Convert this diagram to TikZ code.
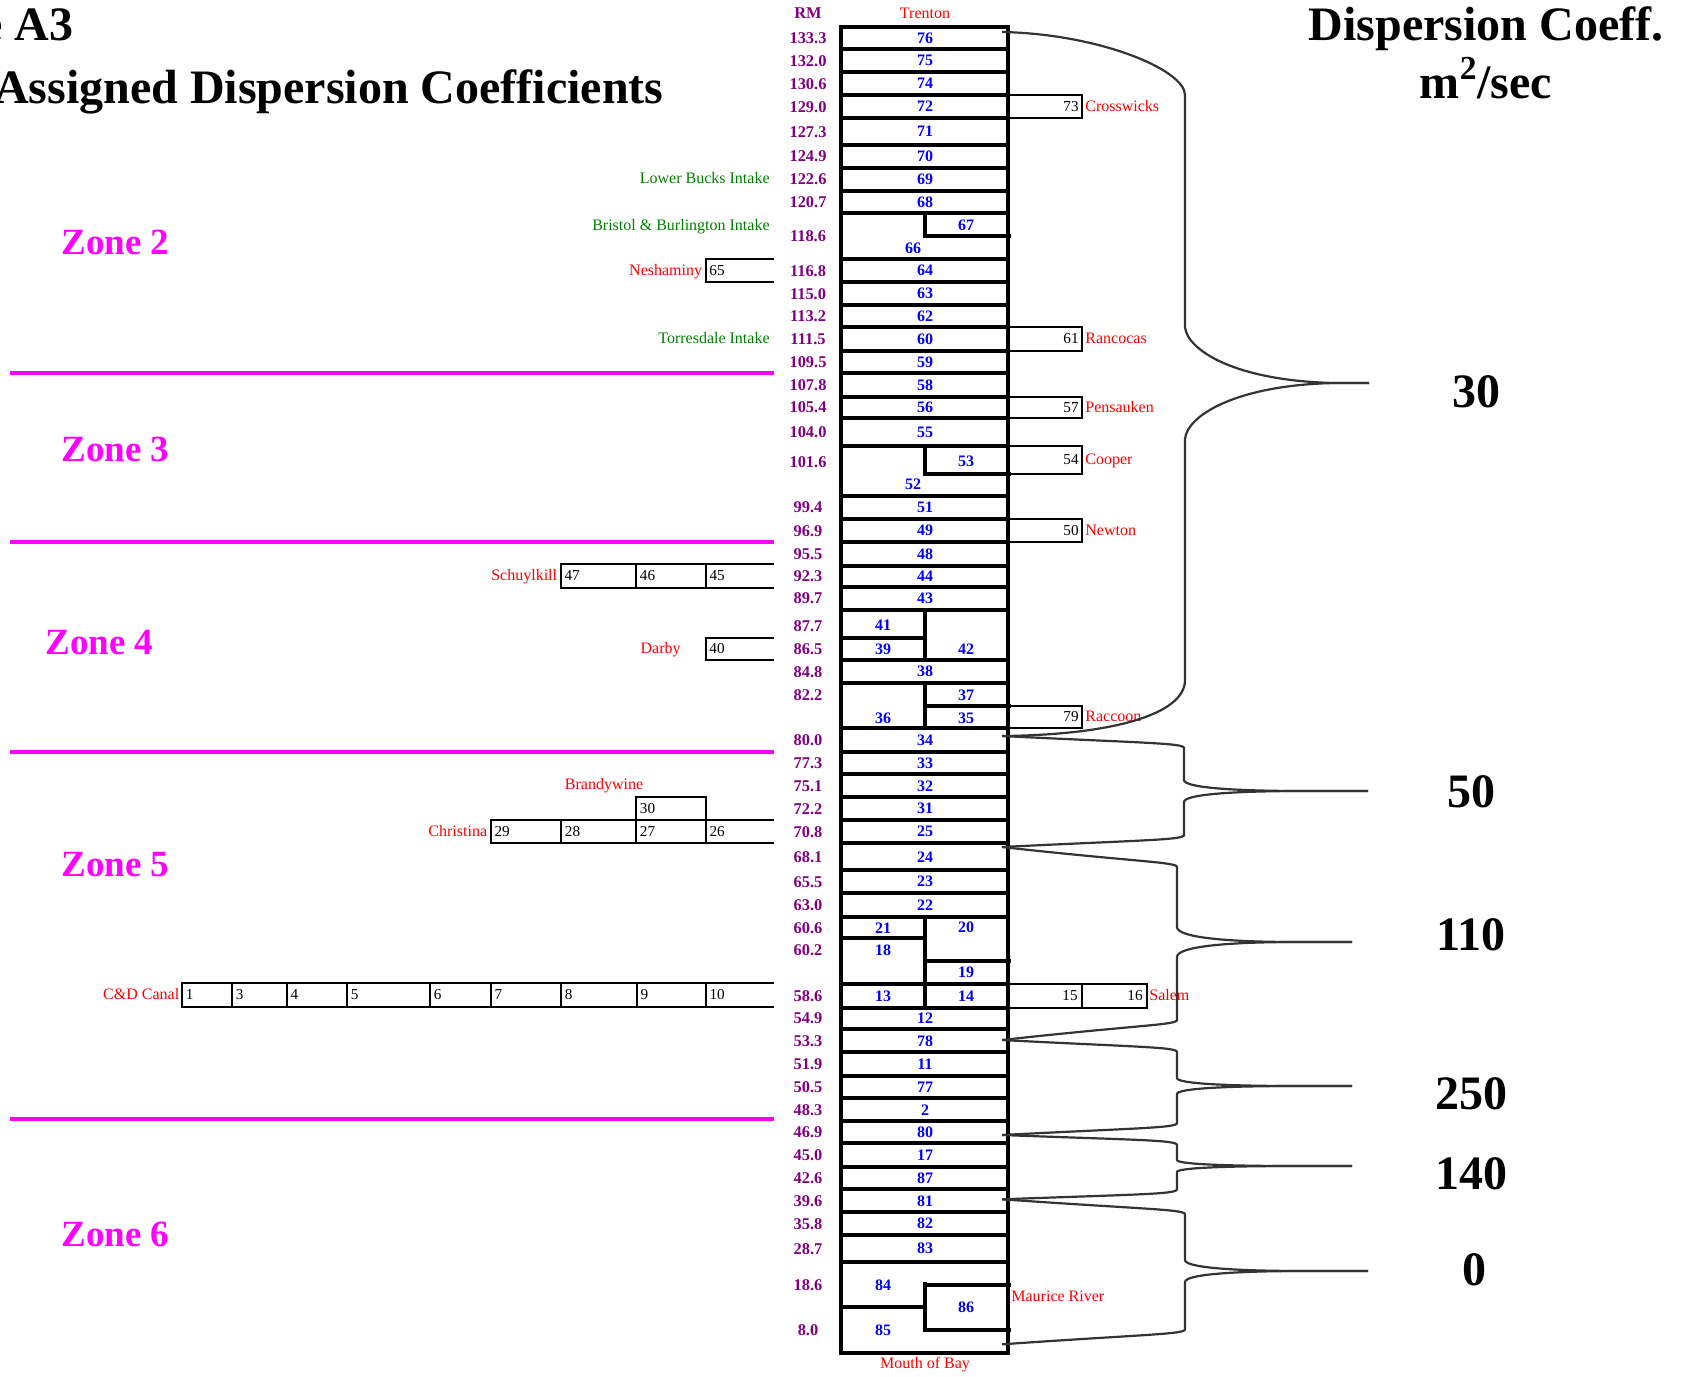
\documentclass[tikz,border=0pt]{standalone}
\usepackage{fontspec}
\setmainfont{Liberation Serif}
\definecolor{rmpurple}{RGB}{128,0,128}
\definecolor{intakegreen}{RGB}{0,128,0}
\definecolor{bracegray}{RGB}{51,51,51}
\definecolor{zonemag}{RGB}{255,0,255}

\begin{document}
\begin{tikzpicture}[x=0.5pt,y=-0.5pt,
  cell/.style={inner sep=0pt,text=blue,font=\fontsize{8}{9}\selectfont\bfseries},
  rmlbl/.style={inner sep=0pt,text=rmpurple,font=\fontsize{8.2}{9}\selectfont\bfseries},
  trib/.style={inner sep=0pt,text=red,font=\fontsize{8}{9}\selectfont},
  intake/.style={inner sep=0pt,anchor=mid east,text=intakegreen,font=\fontsize{8}{9}\selectfont},
  bnum/.style={inner sep=0pt,anchor=mid west,font=\fontsize{7.6}{9}\selectfont},
  wall/.style={line width=2pt},
  branch/.style={line width=0.9pt},
  zoneline/.style={zonemag,line width=2pt},
  zonelbl/.style={inner sep=0pt,anchor=west,text=zonemag,font=\fontsize{18.5}{22}\selectfont\bfseries},
  bigtxt/.style={inner sep=0pt,font=\fontsize{24}{28}\selectfont\bfseries},
  coefbrace/.style={bracegray,line width=1.1pt}]
  \useasboundingbox (0,0) rectangle (1685,1376);
  % titulos
  \node[bigtxt,anchor=base east] (tab) at (74,40) {Table A3};
  \node[bigtxt,anchor=base east] (title) at (664,103) {Assigned Dispersion Coefficients};
  \node[bigtxt,anchor=base] (coefhd) at (1486,40) {Dispersion Coeff.};
  \node[bigtxt,anchor=base] (units) at (1486,98) {m\textsuperscript{2}/sec};
  % zonas
  \foreach \y in {373,542.3,752.3,1119} \draw[zoneline] (10,\y) -- (774,\y);
  \foreach \z/\x/\y in {2/61/242,3/61/449,4/45/642,5/61/865,6/61/1234}
    \node[zonelbl] (zone\z) at (\x,\y) {Zone \z};
  % eje principal del rio
  \draw[wall] (841,27.2) rectangle (1007.7,1353.3);
  \foreach \y in {49.3,72.3,95,118.3,145,167.7,190.7,213.3,259,282.3,305,327.3,350.7,373.3,396.7,418.3,445.7,495.7,519,542.3,565.7,586.7,610,660,683.3,728.3,752.3,774.3,797.3,820,843.3,870,893.3,916.7,984.3,1007.7,1029.3,1052.3,1075.7,1098.3,1121,1143.3,1166.7,1189.3,1212.3,1235,1262.3}
    \draw[wall] (841,\y) -- (1007.7,\y);
  % celdas partidas
  \draw[wall] (924.7,213.3) -- (924.7,236) -- (1010.5,236);
  \draw[wall] (924.7,445.7) -- (924.7,474.3) -- (1010.5,474.3);
  \draw[wall] (841,637.7) -- (924.7,637.7) (924.7,610) -- (924.7,660);
  \draw[wall] (924.7,683.3) -- (924.7,728.3) (924.7,706) -- (1010.5,706);
  \draw[wall] (841,937.7) -- (924.7,937.7) (924.7,916.7) -- (924.7,1007.7) (924.7,961) -- (1010.5,961);
  \draw[wall] (841,1307.3) -- (924.7,1307.3) (924.7,1282) -- (924.7,1332) (924.7,1285) -- (1010.5,1285) (924.7,1330) -- (1010.5,1330);
  \node[rmlbl] (rmhd) at (808,13.3) {RM};
  \node[trib] (trenton) at (925,13) {Trenton};
  \node[trib] (mouth) at (925,1365) {Mouth of Bay};
  \foreach \n/\y in {76/38.3,75/60.8,74/83.7,72/106.7,71/131.7,70/156.3,69/179.2,68/202,64/270.7,63/293.7,62/316.2,60/339,59/362,58/385,56/407.5,55/432,51/507.3,49/530.7,48/554,44/576.2,43/598.3,38/671.7,34/740.3,33/763.3,32/785.8,31/808.7,25/831.7,24/856.7,23/881.7,22/905,12/1018.5,78/1040.8,11/1064,77/1087,2/1109.7,80/1132.2,17/1155,87/1177.8,81/1200.8,82/1223.7,83/1248.7}
    \node[cell] (c\n) at (925,\y) {\n};
  \foreach \n/\x/\y in {67/966/225,66/913/248,53/966/461.7,52/913/484,41/883/625.7,39/883/649,42/966/649,37/966/695,36/883/718,35/966/718,21/883/927.7,20/966/927.7,18/883/950.3,19/966/972.7,13/883/996,14/966/996,84/883/1285,85/883/1330.7,86/966/1307}
    \node[cell] (c\n) at (\x,\y) {\n};
  % millas (RM)
  \foreach \r/\y [count=\i] in {133.3/38.3,132.0/60.8,130.6/83.7,129.0/106.7,127.3/131.7,124.9/156.3,122.6/179.2,120.7/202,118.6/236,116.8/270.7,115.0/293.7,113.2/316.2,111.5/339,109.5/362,107.8/385,105.4/407.5,104.0/432,101.6/461.7,99.4/507.3,96.9/530.7,95.5/554,92.3/576.2,89.7/598.3,87.7/625.7,86.5/649,84.8/671.7,82.2/695,80.0/740.3,77.3/763.3,75.1/785.8,72.2/808.7,70.8/831.7,68.1/856.7,65.5/881.7,63.0/905,60.6/927.7,60.2/950.3,58.6/996,54.9/1018.5,53.3/1040.8,51.9/1064,50.5/1087,48.3/1109.7,46.9/1132.2,45.0/1155,42.6/1177.8,39.6/1200.8,35.8/1223.7,28.7/1248.7,18.6/1285,8.0/1330}
    \node[rmlbl] (rm\i) at (808,\y) {\r};
  % tributarios, margen NJ
  \foreach \n/\ya/\yb/\name in {73/95/118.3/Crosswicks,61/327.3/350.7/Rancocas,57/396.7/418.3/Pensauken,54/445.7/474.3/Cooper,50/519/542.3/Newton,79/706/728.3/Raccoon}{
    \draw[branch] (1007.7,\ya) rectangle (1082.3,\yb);
    \node[bnum,anchor=mid east] (b\n) at (1079,{(\ya+\yb)/2}) {\n};
    \node[trib,anchor=mid west] (t\n) at (1085,{(\ya+\yb)/2}) {\name};}
  \draw[branch] (1007.7,984.3) rectangle (1081.7,1007.7) rectangle (1146.7,984.3);
  \node[bnum,anchor=mid east] (b15) at (1078,996) {15};
  \node[bnum,anchor=mid east] (b16) at (1143,996) {16};
  \node[trib,anchor=mid west] (t16) at (1149,996) {Salem};
  \node[trib,anchor=mid west] (t86) at (1011,1297) {Maurice River};
  % tributarios, margen PA/DE
  \draw[branch] (774,259) -| (705.7,282.3) -- (774,282.3);
  \node[bnum] (b65) at (709,270.7) {65};
  \node[trib,anchor=mid east] (t65) at (702.5,270.7) {Neshaminy};
  \draw[branch] (774,564.3) -| (560.7,587.7) -- (774,587.7);
  \foreach \x in {636,705.7} \draw[branch] (\x,564.3) -- (\x,587.7);
  \foreach \n/\x in {47/560.7,46/636,45/705.7} \node[bnum] (b\n) at (\x+3.5,576) {\n};
  \node[trib,anchor=mid east] (t47) at (557.5,576) {Schuylkill};
  \draw[branch] (774,637.7) -| (705.7,660) -- (774,660);
  \node[bnum] (b40) at (709,649) {40};
  \node[trib,anchor=mid east] (t40) at (681,649) {Darby};
  \draw[branch] (774,820) -| (490.7,842.7) -- (774,842.7);
  \foreach \x in {561,636,705.7} \draw[branch] (\x,820) -- (\x,842.7);
  \draw[branch] (636,797) rectangle (705.7,820);
  \foreach \n/\x in {29/490.7,28/561,27/636,26/705.7} \node[bnum] (b\n) at (\x+3.5,831.5) {\n};
  \node[bnum] (b30) at (639.5,808.5) {30};
  \node[trib,anchor=mid east] (t29) at (487.5,831.5) {Christina};
  \node[trib] (t30) at (604,786) {Brandywine};
  \draw[branch] (774,983.3) -| (182,1006.7) -- (774,1006.7);
  \foreach \x in {232,286.7,347,430,490.8,561,636.7,705.6} \draw[branch] (\x,983.3) -- (\x,1006.7);
  \foreach \n/\x in {1/182,3/232,4/286.7,5/347,6/430,7/490.8,8/561,9/636.7,10/705.6} \node[bnum] (b\n) at (\x+3.5,995) {\n};
  \node[trib,anchor=mid east] (tcd) at (179.6,995) {C\&D Canal};
  % tomas de agua
  \node[intake] (i69) at (770,179) {Lower Bucks Intake};
  \node[intake] (i67) at (770,225.5) {Bristol \& Burlington Intake};
  \node[intake] (i60) at (770,339) {Torresdale Intake};
  % coeficientes de dispersion
  \foreach \v/\x/\y in {30/1476/392,50/1471/792,110/1471/935,250/1471/1094,140/1471/1174,0/1474/1270}
    \node[bigtxt] (k\v) at (\x,\y) {\v};
  \draw[coefbrace] (1002,32) .. controls (1100,34) and (1185,70) .. (1185,95) -- (1185,327) .. controls (1187,350) and (1235,381) .. (1335,383) -- (1369,383);
  \draw[coefbrace] (1369,383) -- (1335,383) .. controls (1235,385) and (1187,416) .. (1185,439) -- (1185,680) .. controls (1185,715) and (1110,735) .. (1002,736);
  \foreach \ya/\yb/\xv/\yt/\xt/\d/\h in {736/847/1184/791/1368/7/11,847/1040/1177/942/1352/15/15,1040/1135/1177/1086/1352/7/8,1135/1199.3/1177/1166/1352/5/6,1199.3/1344.3/1185/1271/1368/10/11}{
    \draw[coefbrace] (1002,\ya) .. controls (\xv-40,\ya+\d) and (\xv,\ya+\d) .. (\xv,\ya+\d+5) -- (\xv,\yt-\h) .. controls (\xv,\yt-0.3*\h) and (\xv+50,\yt) .. (\xv+120,\yt) -- (\xt,\yt);
    \draw[coefbrace] (\xt,\yt) -- (\xv+120,\yt) .. controls (\xv+50,\yt) and (\xv,\yt+0.3*\h) .. (\xv,\yt+\h) -- (\xv,\yb-\d-5) .. controls (\xv,\yb-\d) and (\xv-40,\yb-\d) .. (1002,\yb);}
\end{tikzpicture}
\end{document}
